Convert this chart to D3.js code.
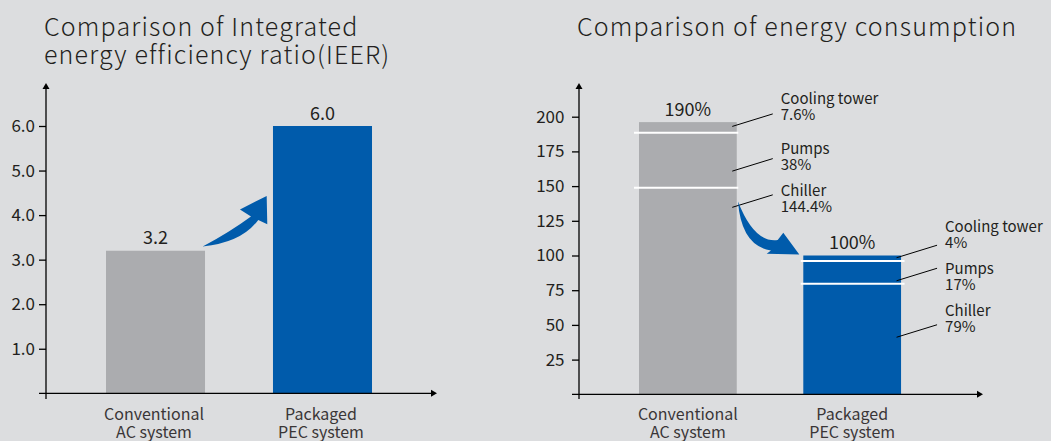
<!DOCTYPE html>
<html>
<head>
<meta charset="utf-8">
<script src="https://cdn.jsdelivr.net/npm/d3@7"></script>
<style>
    html, body { margin: 0; padding: 0; background: #dcdddf; }
    svg { display: block; font-family: "Noto Sans CJK SC", "Noto Sans", sans-serif; }
    .title { font-size: 25px; font-weight: 300; letter-spacing: 1.15px; fill: #231f20; }
    .tick text { font-family: "Noto Sans CJK SC", "Noto Sans", sans-serif; font-size: 17px; fill: #231f20; }
    .cat-label { font-size: 16px; fill: #3a3637; }
    .value-label { font-size: 18px; fill: #231f20; }
    .callout { font-size: 15px; fill: #231f20; }
</style>
</head>
<body>
<svg id="chart" width="1051" height="441"></svg>
<script>
// ---- data ----
var systems = ['Conventional AC system', 'Packaged PEC system'];
var ieerValues = [3.2, 6.0];
var ieerTicks = [1, 2, 3, 4, 5, 6];

var energyTotals = ['190%', '100%'];
var energyParts = ['Chiller', 'Pumps', 'Cooling tower'];
// bar segment heights as drawn (chiller, pumps, cooling tower)
var conventionalSegments = [148.8, 39.6, 7.7];
var pecSegments = [79.7, 16.3, 4.0];
var conventionalPartLabels = ['144.4%', '38%', '7.6%'];
var pecPartLabels = ['79%', '17%', '4%'];
var energyTicks = [25, 50, 75, 100, 125, 150, 175, 200];

// ---- layout ----
var grayBar = '#abacaf';
var blueBar = '#005bab';

// callout placement in axis units: where the leader starts, where the text sits
var conventionalCallouts = [
    { lineAt: 134.7, textAt: 142.8 },
    { lineAt: 160.8, textAt: 173.1 },
    { lineAt: 193.0, textAt: 209.1 }
];
var pecCallouts = [
    { lineAt: 41.1, textAt: 56.4 },
    { lineAt: 81.8, textAt: 86.4 },
    { lineAt: 98.4, textAt: 117.1 }
];

var svg = d3.select('#chart');

function splitLabel(sel, name, lineHeight) {
    var words = name.split(' ');
    sel.append('tspan').attr('x', 0).attr('dy', 0).text(words[0]);
    sel.append('tspan').attr('x', 0).attr('dy', lineHeight).text(words.slice(1).join(' '));
}

function drawAxes(g, x0, x1, yTop, yBase, yBottom) {
    g.append('line')
        .attr('x1', x0).attr('x2', x0)
        .attr('y1', yBottom).attr('y2', yTop + 4)
        .attr('stroke', '#000').attr('stroke-width', 1.3);
    g.append('path')
        .attr('d', 'M' + x0 + ',' + yTop + 'L' + (x0 - 3.5) + ',' + (yTop + 6) + 'L' + (x0 + 3.5) + ',' + (yTop + 6) + 'Z')
        .attr('fill', '#000');
    g.append('line')
        .attr('x1', x0 - 7).attr('x2', x1 - 4)
        .attr('y1', yBase).attr('y2', yBase)
        .attr('stroke', '#000').attr('stroke-width', 1.3);
    g.append('path')
        .attr('d', 'M' + x1 + ',' + yBase + 'L' + (x1 - 6) + ',' + (yBase - 3.5) + 'L' + (x1 - 6) + ',' + (yBase + 3.5) + 'Z')
        .attr('fill', '#000');
}

function styleAxis(g) {
    g.attr('font-family', null).attr('font-size', null);
    g.select('.domain').remove();
    g.selectAll('.tick line').attr('stroke', '#000').attr('stroke-width', 1.3);
}

function arrowPath(tip, pts) {
    // pts are offsets from the arrow tip
    function p(o) { return (tip[0] + o[0]) + ',' + (tip[1] + o[1]); }
    return 'M' + p(pts.tail) +
        'Q' + p(pts.c1) + ' ' + p(pts.b1) +
        'L' + p(pts.w1) +
        'L' + p([0, 0]) +
        'L' + p(pts.w2) +
        'L' + p(pts.b2) +
        'Q' + p(pts.c2) + ' ' + p(pts.tail) + 'Z';
}

// ================= left chart: IEER =================
var left = svg.append('g');

left.append('text').attr('class', 'title')
    .attr('x', 44).attr('y', 36)
    .text('Comparison of Integrated');
left.append('text').attr('class', 'title')
    .attr('x', 44).attr('y', 64)
    .text('energy efficiency ratio(IEER)');

var xL = d3.scaleBand()
    .domain(systems)
    .range([22.5, 455.5])
    .paddingInner(0.407)
    .paddingOuter(0.5);

var yL = d3.scaleLinear()
    .domain([0, 6])
    .range([393.3, 126]);

left.append('g')
    .attr('transform', 'translate(46,0)')
    .call(d3.axisLeft(yL).tickValues(ieerTicks).tickFormat(d3.format('.1f')).tickSize(7).tickPadding(4))
    .call(styleAxis);

left.selectAll('.bar')
    .data(ieerValues)
    .join('rect')
    .attr('class', 'bar')
    .attr('x', (d, i) => xL(systems[i]))
    .attr('y', d => yL(d))
    .attr('width', xL.bandwidth())
    .attr('height', d => yL(0) - yL(d))
    .attr('fill', (d, i) => i === 0 ? grayBar : blueBar);

left.selectAll('.value-label')
    .data(ieerValues)
    .join('text')
    .attr('class', 'value-label')
    .attr('text-anchor', 'middle')
    .attr('x', (d, i) => xL(systems[i]) + xL.bandwidth() / 2)
    .attr('y', d => yL(d) - 6.5)
    .text(d => d.toFixed(1));

drawAxes(left, 46, 437, 83, yL(0), 399);

left.selectAll('.cat-label')
    .data(systems)
    .join('text')
    .attr('class', 'cat-label')
    .attr('text-anchor', 'middle')
    .attr('transform', d => 'translate(' + (xL(d) + xL.bandwidth() / 2 - 1.5) + ',420)')
    .each(function(d) { splitLabel(d3.select(this), d, 18); });

left.append('path')
    .attr('d', arrowPath([xL(systems[1]) - 6.3, yL(4.43)], {
        tail: [-64, 50.5], c1: [-37.5, 36.5], b1: [-15.7, 20.5], w1: [-26.7, 13.5],
        w2: [0.6, 28.3], b2: [-8.4, 24], c2: [-25.2, 46.8]
    }))
    .attr('fill', blueBar);

// ================= right chart: energy consumption =================
var right = svg.append('g');

right.append('text').attr('class', 'title')
    .attr('x', 577).attr('y', 36)
    .text('Comparison of energy consumption');

var xR = d3.scaleBand()
    .domain(systems)
    .range([556.85, 983.2])
    .paddingInner(0.405)
    .paddingOuter(0.5);

var yR = d3.scaleLinear()
    .domain([0, 200])
    .range([394.3, 116.7]);

right.append('g')
    .attr('transform', 'translate(579,0)')
    .call(d3.axisLeft(yR).tickValues(energyTicks).tickSize(7).tickPadding(7.5))
    .call(styleAxis);

var stacks = [conventionalSegments, pecSegments].map(function(segs, i) {
    var acc = 0;
    return segs.map(function(v, j) {
        var s = { system: systems[i], part: energyParts[j], y0: acc, y1: acc + v, index: i };
        acc += v;
        return s;
    });
});

var segments = Array.prototype.concat.apply([], stacks);

right.selectAll('.seg')
    .data(segments)
    .join('rect')
    .attr('class', 'seg')
    .attr('x', d => xR(d.system))
    .attr('y', d => yR(d.y1))
    .attr('width', xR.bandwidth())
    .attr('height', d => yR(d.y0) - yR(d.y1))
    .attr('fill', d => d.index === 0 ? grayBar : blueBar);

// white separators between the parts
right.selectAll('.sep')
    .data(segments.filter(d => d.part !== 'Cooling tower'))
    .join('line')
    .attr('class', 'sep')
    .attr('x1', d => xR(d.system) - (d.index === 0 ? 5 : 2.5))
    .attr('x2', d => xR(d.system) + xR.bandwidth() + (d.index === 0 ? 1.5 : 3.5))
    .attr('y1', d => yR(d.y1))
    .attr('y2', d => yR(d.y1))
    .attr('stroke', '#fff')
    .attr('stroke-width', 2);

right.selectAll('.total-label')
    .data(stacks)
    .join('text')
    .attr('class', 'value-label total-label')
    .attr('text-anchor', 'middle')
    .attr('x', (d, i) => xR(systems[i]) + xR.bandwidth() / 2)
    .attr('y', d => yR(d[d.length - 1].y1) - 6.5)
    .text((d, i) => energyTotals[i]);

// callouts
var callouts = [];
[conventionalCallouts, pecCallouts].forEach(function(list, i) {
    var labels = i === 0 ? conventionalPartLabels : pecPartLabels;
    list.forEach(function(c, j) {
        callouts.push({ system: systems[i], part: energyParts[j], value: labels[j], lineAt: c.lineAt, textAt: c.textAt });
    });
});

right.selectAll('.leader')
    .data(callouts)
    .join('line')
    .attr('class', 'leader')
    .attr('x1', d => xR(d.system) + xR.bandwidth() - 4.5)
    .attr('y1', d => yR(d.lineAt))
    .attr('x2', d => xR(d.system) + xR.bandwidth() + 36)
    .attr('y2', d => yR(d.lineAt) - 12.5)
    .attr('stroke', '#000')
    .attr('stroke-width', 1);

right.selectAll('.callout')
    .data(callouts)
    .join('text')
    .attr('class', 'callout')
    .attr('transform', d => 'translate(' + (xR(d.system) + xR.bandwidth() + 44) + ',' + yR(d.textAt) + ')')
    .each(function(d) {
        var t = d3.select(this);
        t.append('tspan').attr('x', 0).attr('dy', 0).text(d.part);
        t.append('tspan').attr('x', 0).attr('dy', 16).text(d.value);
    });

drawAxes(right, 579, 983, 83, yR(0), 399);

right.selectAll('.cat-label')
    .data(systems)
    .join('text')
    .attr('class', 'cat-label')
    .attr('text-anchor', 'middle')
    .attr('transform', d => 'translate(' + (xR(d) + xR.bandwidth() / 2) + ',420)')
    .each(function(d) { splitLabel(d3.select(this), d, 18); });

right.append('path')
    .attr('d', arrowPath([xR(systems[1]) - 4, yR(100.8)], {
        tail: [-61.3, -52.8], c1: [-57.8, -8.2], b1: [-28.3, -4], w1: [-32.6, -0.6],
        w2: [-16, -21.6], b2: [-21.6, -14.3], c2: [-45.1, -11.1]
    }))
    .attr('fill', blueBar);
</script>
</body>
</html>
